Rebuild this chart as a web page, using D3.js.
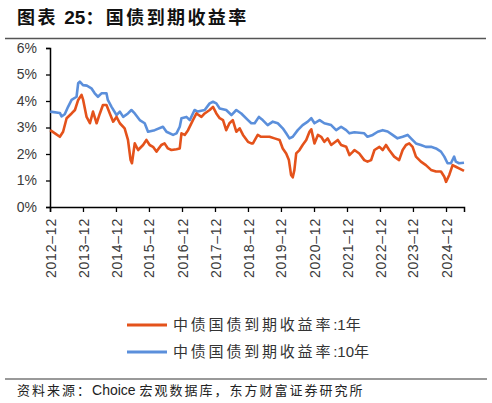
<!DOCTYPE html>
<html>
<head>
<meta charset="utf-8">
<script src="https://cdn.jsdelivr.net/npm/d3@7"></script>
<style>
  body { margin: 0; background: #fff; }
  svg { display: block; }
</style>
</head>
<body>
<div id="chart"></div>
<script>
// 中债国债到期收益率:1年
const dates1 = [
  '2012-12-03', '2013-01-25', '2013-03-20', '2013-04-25', '2013-06-03', '2013-07-28', '2013-09-03',
  '2013-10-09', '2013-11-15', '2013-12-03', '2014-01-10', '2014-02-16', '2014-03-22', '2014-05-01',
  '2014-06-06', '2014-07-10', '2014-08-18', '2014-09-24', '2014-10-31', '2014-12-07', '2015-01-13',
  '2015-03-07', '2015-04-13', '2015-05-12', '2015-05-27', '2015-06-27', '2015-08-03', '2015-09-27',
  '2015-11-03', '2015-12-09', '2016-01-15', '2016-02-22', '2016-04-16', '2016-05-22', '2016-06-28',
  '2016-08-06', '2016-10-01', '2016-11-06', '2016-11-25', '2016-12-31', '2017-02-06', '2017-04-01',
  '2017-05-10', '2017-07-04', '2017-08-09', '2017-10-03', '2017-11-09', '2017-12-16', '2018-01-22',
  '2018-02-28', '2018-04-04', '2018-05-10', '2018-06-16', '2018-07-25', '2018-08-31', '2018-10-07',
  '2018-12-01', '2019-01-07', '2019-01-25', '2019-03-19', '2019-04-25', '2019-07-28', '2019-09-21',
  '2019-11-16', '2019-12-21', '2020-01-28', '2020-02-27', '2020-03-22', '2020-04-10', '2020-04-28',
  '2020-05-18', '2020-06-23', '2020-07-28', '2020-09-06', '2020-10-12', '2020-11-01', '2020-12-06',
  '2021-01-13', '2021-02-18', '2021-03-25', '2021-05-01', '2021-06-09', '2021-08-21', '2021-09-27',
  '2021-11-22', '2021-12-28', '2022-02-03', '2022-02-21', '2022-04-16', '2022-06-10', '2022-07-16',
  '2022-08-25', '2022-10-01', '2022-11-25', '2022-12-31', '2023-02-06', '2023-03-13', '2023-05-07',
  '2023-07-01', '2023-08-09', '2023-09-15', '2023-10-21', '2023-11-27', '2024-01-03', '2024-02-27',
  '2024-04-22', '2024-06-18', '2024-08-12', '2024-10-06', '2024-11-12', '2024-12-01', '2025-01-06',
  '2025-02-12', '2025-03-19', '2025-04-24', '2025-06-18'
];
const rate1 = [
  2.90, 2.78, 2.65, 2.84, 3.35, 3.53, 3.66,
  4.04, 4.23, 4.04, 3.40, 3.16, 3.60, 3.16,
  3.53, 3.85, 3.85, 3.53, 3.22, 3.40, 3.16,
  2.97, 2.53, 1.77, 1.65, 2.40, 2.15, 2.34,
  2.53, 2.34, 2.27, 2.09, 2.34, 2.40, 2.21,
  2.15, 2.18, 2.21, 2.78, 2.72, 2.90, 3.28,
  3.53, 3.40, 3.53, 3.66, 3.78, 3.53, 3.35,
  3.28, 2.90, 3.16, 3.28, 2.84, 2.97, 2.72,
  2.46, 2.40, 2.40, 2.72, 2.65, 2.65, 2.59,
  2.53, 2.21, 2.02, 1.77, 1.21, 1.12, 1.40,
  2.02, 2.15, 2.34, 2.53, 2.84, 2.93, 2.40,
  2.72, 2.65, 2.46, 2.59, 2.34, 2.53, 2.34,
  2.27, 1.96, 2.08, 2.15, 2.02, 1.77, 1.71,
  1.77, 2.15, 2.27, 2.15, 2.34, 2.15, 1.90,
  1.77, 2.15, 2.34, 2.40, 2.27, 1.90, 1.71,
  1.58, 1.40, 1.34, 1.34, 1.14, 0.95, 1.21,
  1.58, 1.52, 1.46, 1.36
];

// 中债国债到期收益率:10年
const dates10 = [
  '2012-12-03', '2013-03-20', '2013-04-08', '2013-05-13', '2013-06-19', '2013-07-28', '2013-09-21',
  '2013-10-09', '2013-10-27', '2013-12-01', '2014-01-13', '2014-03-04', '2014-04-10', '2014-05-16',
  '2014-06-24', '2014-08-18', '2014-09-02', '2014-10-13', '2014-12-07', '2015-01-13', '2015-02-19',
  '2015-04-13', '2015-05-21', '2015-06-27', '2015-08-21', '2015-10-15', '2015-11-21', '2016-02-03',
  '2016-05-04', '2016-06-12', '2016-08-24', '2016-10-01', '2016-11-06', '2016-11-25', '2017-01-19',
  '2017-02-25', '2017-04-19', '2017-05-25', '2017-08-09', '2017-10-03', '2017-11-09', '2017-12-16',
  '2018-01-22', '2018-04-04', '2018-06-01', '2018-07-25', '2018-09-18', '2018-12-01', '2019-01-07',
  '2019-02-13', '2019-04-01', '2019-05-13', '2019-07-07', '2019-09-02', '2019-10-27', '2019-12-21',
  '2020-01-28', '2020-03-04', '2020-04-10', '2020-06-04', '2020-07-28', '2020-09-23', '2020-11-01',
  '2020-12-06', '2021-02-01', '2021-03-25', '2021-06-09', '2021-08-03', '2021-09-27', '2021-11-22',
  '2021-12-28', '2022-02-21', '2022-06-10', '2022-07-16', '2022-09-12', '2022-11-06', '2022-12-31',
  '2023-02-24', '2023-04-19', '2023-06-13', '2023-08-09', '2023-10-03', '2023-11-09', '2024-01-03',
  '2024-02-27', '2024-04-22', '2024-06-18', '2024-08-12', '2024-10-06', '2024-11-12', '2024-12-18',
  '2025-01-24', '2025-03-01', '2025-03-19', '2025-04-24', '2025-06-18'
];
const rate10 = [
  3.60, 3.55, 3.42, 3.50, 3.78, 4.04, 4.16,
  4.67, 4.73, 4.60, 4.58, 4.48, 4.29, 4.16,
  4.29, 4.29, 4.04, 3.78, 3.47, 3.60, 3.40,
  3.53, 3.66, 3.53, 3.28, 3.16, 2.84, 2.90,
  3.03, 2.84, 2.72, 2.78, 3.03, 3.35, 3.40,
  3.28, 3.66, 3.60, 3.66, 3.91, 3.97, 3.91,
  3.72, 3.66, 3.47, 3.66, 3.53, 3.28, 3.16,
  3.16, 3.40, 3.28, 3.09, 3.22, 3.16, 2.97,
  2.78, 2.59, 2.65, 2.90, 3.09, 3.22, 3.35,
  3.16, 3.28, 3.16, 3.09, 2.90, 3.03, 2.90,
  2.78, 2.82, 2.78, 2.65, 2.72, 2.84, 2.90,
  2.85, 2.72, 2.59, 2.65, 2.72, 2.59, 2.40,
  2.34, 2.27, 2.27, 2.21, 2.09, 1.90, 1.65,
  1.65, 1.90, 1.71, 1.65, 1.67
];

const yTicks = [0, 1, 2, 3, 4, 5, 6];
const seriesNames = ['中债国债到期收益率:1年', '中债国债到期收益率:10年'];
const seriesColors = ['#e4521b', '#5b8fdb'];

const W = 492, H = 403;
const plot = { left: 50, right: 464, top: 48, bottom: 207 };
const parse = d3.timeParse('%Y-%m-%d');
const cjkFont = '"Noto Sans CJK SC", sans-serif';
const latinFont = '"Liberation Sans", Arial, sans-serif';

const s1 = dates1.map((d, i) => ({ date: parse(d), value: rate1[i] }));
const s10 = dates10.map((d, i) => ({ date: parse(d), value: rate10[i] }));

const svg = d3.select('#chart').append('svg')
  .attr('width', W)
  .attr('height', H);

// Title
const title = svg.append('text')
  .attr('x', 17)
  .attr('y', 24)
  .style('font-size', '18px')
  .style('font-weight', 'bold')
  .style('fill', '#111');
title.append('tspan').style('font-family', cjkFont).style('letter-spacing', '2.4px').text('图表 ');
title.append('tspan').style('font-family', latinFont).style('font-size', '19px').text('25');
title.append('tspan').style('font-family', cjkFont).style('letter-spacing', '2.4px').text('：国债到期收益率');

svg.append('line')
  .attr('x1', 5).attr('x2', 486)
  .attr('y1', 38.5).attr('y2', 38.5)
  .attr('stroke', '#555')
  .attr('stroke-width', 1.5);

const x = d3.scaleTime()
  .domain([parse('2012-12-01'), parse('2025-06-18')])
  .range([plot.left, plot.right]);
const y = d3.scaleLinear()
  .domain([0, 6])
  .range([plot.bottom, plot.top]);

// Axes
const yAxis = svg.append('g')
  .attr('transform', `translate(${plot.left},0)`)
  .call(d3.axisLeft(y).tickValues(yTicks).tickSize(4).tickPadding(9).tickFormat(d => d + '%'));

const xTicks = d3.range(2012, 2025).map(yr => new Date(yr, 11, 1));
const xAxis = svg.append('g')
  .attr('transform', `translate(0,${plot.bottom})`)
  .call(d3.axisBottom(x).tickValues(xTicks).tickSize(5).tickFormat(d3.timeFormat('%Y–%m')));

[yAxis, xAxis].forEach(g => {
  g.select('.domain').attr('stroke', '#000').attr('stroke-width', 1.5);
  g.selectAll('.tick line').attr('stroke', '#000').attr('stroke-width', 1.3);
  g.selectAll('text')
    .style('font-family', latinFont)
    .style('font-size', '14px')
    .style('fill', '#3a3a3a');
});

xAxis.selectAll('text')
  .attr('transform', 'rotate(-90)')
  .attr('text-anchor', 'end')
  .attr('x', -11)
  .attr('y', 0)
  .attr('dy', '0.36em')
  .style('letter-spacing', '0.8px');

// Lines
const line = d3.line()
  .x(d => x(d.date))
  .y(d => y(d.value));

svg.append('path')
  .datum(s10)
  .attr('fill', 'none')
  .attr('stroke', seriesColors[1])
  .attr('stroke-width', 2.6)
  .attr('stroke-linejoin', 'round')
  .attr('d', line);

svg.append('path')
  .datum(s1)
  .attr('fill', 'none')
  .attr('stroke', seriesColors[0])
  .attr('stroke-width', 2.6)
  .attr('stroke-linejoin', 'round')
  .attr('d', line);

// Legend
const legend = svg.append('g')
  .selectAll('g')
  .data(seriesNames)
  .join('g')
  .attr('transform', (d, i) => `translate(127,${325 + i * 27})`);

legend.append('line')
  .attr('x1', 0).attr('x2', 40)
  .attr('stroke', (d, i) => seriesColors[i])
  .attr('stroke-width', 2.8);

const legendText = legend.append('text')
  .attr('x', 46)
  .attr('dy', '0.36em')
  .style('font-size', '15px')
  .style('fill', '#333');

// split "name:term年" so the Latin part stays compact like the original
legendText.each(function(d) {
  const m = d.match(/^(.*?)(:\d+)(.*)$/);
  const t = d3.select(this);
  t.append('tspan').style('font-family', cjkFont).style('letter-spacing', '2.8px').text(m[1]);
  t.append('tspan').style('font-family', latinFont).text(m[2]);
  t.append('tspan').style('font-family', cjkFont).text(m[3]);
});

// Source
svg.append('line')
  .attr('x1', 5).attr('x2', 487)
  .attr('y1', 379).attr('y2', 379)
  .attr('stroke', '#777')
  .attr('stroke-width', 1.5);

const source = svg.append('text')
  .attr('x', 17)
  .attr('y', 395)
  .style('font-size', '13px')
  .style('fill', '#222');
source.append('tspan').style('font-family', cjkFont).style('letter-spacing', '2px').text('资料来源：');
source.append('tspan').style('font-family', latinFont).style('font-size', '14px').text('Choice ');
source.append('tspan').style('font-family', cjkFont).style('letter-spacing', '2px').text('宏观数据库，东方财富证券研究所');
</script>
</body>
</html>
